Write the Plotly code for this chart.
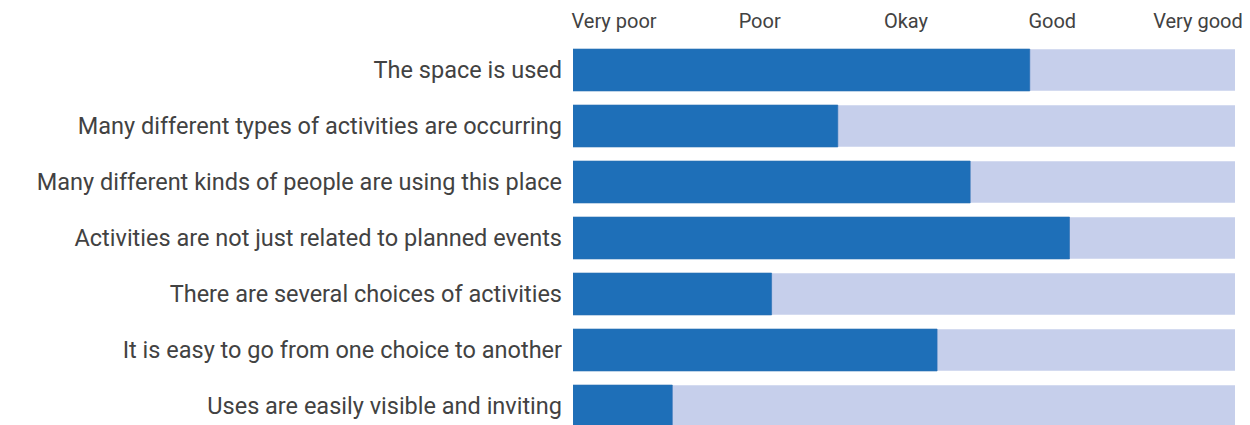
import plotly.graph_objects as go

categories = [
    "The space is used",
    "Many different types of activities are occurring",
    "Many different kinds of people are using this place",
    "Activities are not just related to planned events",
    "There are several choices of activities",
    "It is easy to go from one choice to another",
    "Uses are easily visible and inviting",
]
scores = [69, 40, 60, 75, 30, 55, 15]
scale_max = [100] * len(categories)
tick_labels = ["Very poor", "Poor", "Okay", "Good", "Very good"]
tick_positions = [6.2, 28.2, 50.3, 72.4, 94.4]

fig = go.Figure()
fig.add_trace(go.Bar(
    y=categories, x=scale_max, orientation="h",
    marker=dict(color="#c6cfeb", line=dict(width=0)),
    width=0.74, hoverinfo="skip", showlegend=False,
))
fig.add_trace(go.Bar(
    y=categories, x=scores, orientation="h",
    marker=dict(color="#1e6fb8", line=dict(width=0.6, color="#2a6fb3")),
    width=0.75, showlegend=False,
))

fig.update_layout(
    width=1250, height=425,
    margin=dict(l=573, r=15, t=42, b=0),
    barmode="overlay",
    paper_bgcolor="white", plot_bgcolor="white",
    font=dict(family="Roboto", color="#424242"),
    xaxis=dict(
        range=[0, 100], side="top",
        tickvals=tick_positions, ticktext=tick_labels,
        showgrid=False, zeroline=False, showline=False, ticks="",
        tickfont=dict(size=20, color="#424242"),
        ticklabelstandoff=9,
        fixedrange=True,
    ),
    yaxis=dict(
        categoryorder="array", categoryarray=categories,
        range=[6.339, -0.5], autorange=False,
        showgrid=False, zeroline=False, showline=False, ticks="",
        tickfont=dict(size=23.5, color="#424242"),
        ticklabelstandoff=10,
        fixedrange=True,
    ),
)

fig.write_html("out.html")
